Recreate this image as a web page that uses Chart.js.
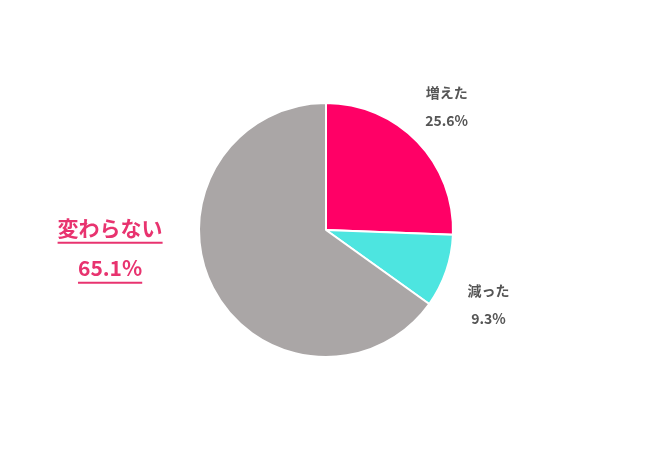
<!DOCTYPE html>
<html>
<head>
<meta charset="utf-8">
<script src="https://cdn.jsdelivr.net/npm/chart.js@4"></script>
<style>body{margin:0;background:#fff}</style>
</head>
<body>
<canvas id="chart" width="650" height="450"></canvas>
<script>
var labels = ["増えた", "減った", "変わらない"];
var values = [25.6, 9.3, 65.1];
var colors = ["#ff0066", "#4de5e0", "#aaa6a6"];
// label offsets in radius units from pie center
var offsets = [[0.95, -0.97], [1.28, 0.59], [-1.70, 0.14]];

var labelPlugin = {
  id: "labels",
  afterDraw: function (chart) {
    var ctx = chart.ctx;
    var arcs = chart.getDatasetMeta(0).data;
    arcs.forEach(function (arc, i) {
      var r = arc.outerRadius;
      var x = arc.x + offsets[i][0] * r;
      var y = arc.y + offsets[i][1] * r;
      ctx.save();
      ctx.textAlign = "center";
      ctx.textBaseline = "middle";
      var pct = values[i].toFixed(1) + "%";
      if (i === 2) {
        ctx.fillStyle = "#e8336f";
        ctx.font = "bold 21px 'Noto Sans CJK JP'";
        ctx.fillText(labels[i], x, y - 20);
        ctx.fillText(pct, x, y + 20);
        ctx.strokeStyle = "#e8336f";
        ctx.lineWidth = 2;
        [[y - 20, labels[i]], [y + 20, pct]].forEach(function (p) {
          var w = ctx.measureText(p[1]).width;
          ctx.beginPath();
          ctx.moveTo(x - w / 2, p[0] + 15);
          ctx.lineTo(x + w / 2, p[0] + 15);
          ctx.stroke();
        });
      } else {
        ctx.fillStyle = "#555";
        ctx.font = "bold 14px 'Noto Sans CJK JP'";
        ctx.fillText(labels[i], x, y - 14);
        ctx.fillText(pct, x, y + 14);
      }
      ctx.restore();
    });
  }
};

new Chart(document.getElementById("chart").getContext("2d"), {
  type: "pie",
  data: {
    labels: labels,
    datasets: [{
      data: values,
      backgroundColor: colors,
      borderColor: "#fff",
      borderWidth: 2
    }]
  },
  options: {
    responsive: false,
    animation: false,
    layout: { padding: { top: 102, bottom: 92, left: 2, right: 0 } },
    plugins: { legend: { display: false }, tooltip: { enabled: false } }
  },
  plugins: [labelPlugin]
});
</script>
</body>
</html>
